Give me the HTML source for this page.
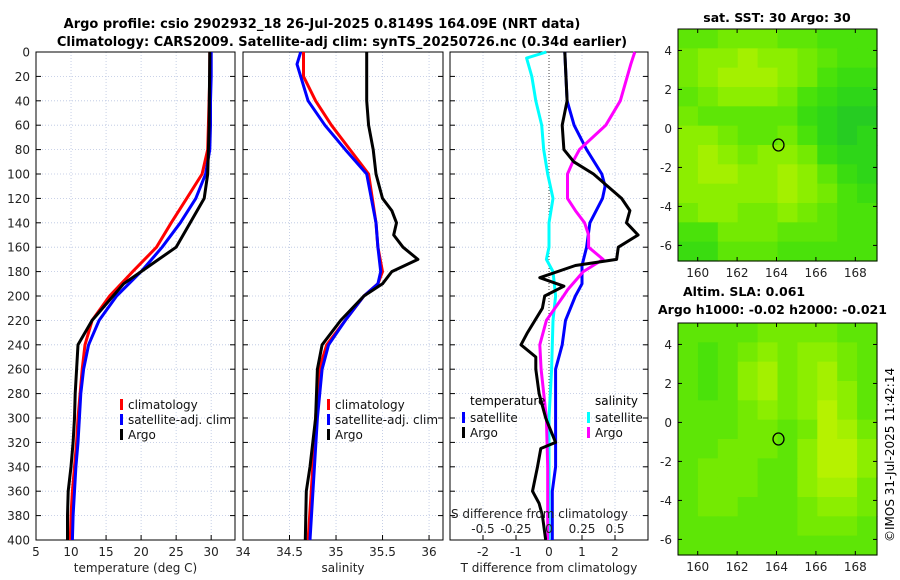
<!DOCTYPE html>
<html><head><meta charset="utf-8"><style>
body{margin:0;background:#fff}
svg{display:block;font-family:"DejaVu Sans","Liberation Sans",sans-serif}
</style></head><body>
<svg id="s" width="900" height="580" xmlns="http://www.w3.org/2000/svg">
<text x="322" y="28" text-anchor="middle" font-weight="bold" font-size="13">Argo profile: csio 2902932_18 26-Jul-2025 0.8149S 164.09E (NRT data)</text>
<text x="342" y="46" text-anchor="middle" font-weight="bold" font-size="13">Climatology: CARS2009. Satellite-adj clim: synTS_20250726.nc (0.34d earlier)</text>
<text x="777" y="22" text-anchor="middle" font-weight="bold" font-size="12.5">sat. SST: 30 Argo: 30</text>
<text x="683" y="296" font-weight="bold" font-size="12.5">Altim. SLA: 0.061</text>
<text x="658" y="314" font-weight="bold" font-size="12.5">Argo h1000: -0.02 h2000: -0.021</text>
<text transform="translate(894,542) rotate(-90)" font-size="12">©IMOS 31-Jul-2025 11:42:14</text>
<g id="g"></g>
</svg>
<script>
const depths=[0,20,40,60,80,100,120,140,160,180,200,220,240,260,280,300,320,340,360,380,400];
const tClim=[29.8,29.8,29.7,29.6,29.5,28.7,26.5,24.3,22.2,18.8,15.5,13,12,11.6,11.3,11,10.8,10.5,10.2,10,9.9];
const tSat=[30,30,29.9,29.9,29.8,29.2,27.8,25.6,23,20,16.5,14,12.5,11.8,11.4,11.2,11,10.7,10.5,10.3,10.2];
const tArgoD=[0,60,100,120,140,160,170,180,190,200,220,240,260,280,300,320,340,360,380,400];
const tArgo=[29.8,29.7,29.5,29,27,25,22.5,20,17.5,16,13,11,10.8,10.6,10.5,10.3,10,9.6,9.5,9.5];
const sArgoD=[0,40,60,80,100,120,130,140,150,160,170,180,190,200,220,240,260,300,340,360,400];
const sArgo=[35.33,35.33,35.35,35.4,35.43,35.5,35.6,35.65,35.62,35.72,35.88,35.6,35.5,35.3,35.05,34.85,34.8,34.78,34.72,34.68,34.67];
const sClimD=[0,20,40,60,80,100,140,160,180,190,200,220,240,260,300,340,400];
const sClim=[34.65,34.65,34.78,34.95,35.15,35.35,35.43,35.45,35.5,35.45,35.3,35.1,34.9,34.82,34.78,34.75,34.7];
const sSatD=[0,10,20,40,60,80,100,140,160,180,190,200,220,240,260,300,400];
const sSat=[34.62,34.58,34.62,34.7,34.88,35.1,35.33,35.43,35.45,35.48,35.45,35.3,35.1,34.92,34.85,34.8,34.72];
const dTSatD=[0,40,60,80,100,110,120,140,160,175,190,200,220,240,260,340,360,400];
const dTSat=[0.48,0.55,0.76,1.14,1.6,1.7,1.62,1.24,1.14,1.0,1.0,0.8,0.5,0.4,0.2,0.2,0.1,0.1];
const dTArgoD=[0,40,60,80,90,100,120,130,140,150,160,170,175,185,192,200,210,230,240,250,260,280,300,310,320,325,340,360,370,380,400];
const dTArgo=[0.48,0.55,0.4,0.45,0.75,1.35,2.2,2.45,2.35,2.7,2.1,2.05,0.8,-0.28,0.45,-0.13,-0.2,-0.65,-0.85,-0.4,-0.4,-0.3,-0.1,0.05,0.2,-0.25,-0.35,-0.5,-0.3,-0.2,-0.1];
const dSSatD=[0,5,20,40,60,80,100,120,140,160,170,180,200,220,260,300,400];
const dSSat=[-0.02,-0.17,-0.13,-0.1,-0.055,-0.04,-0.01,0.03,0,0,-0.02,0.03,0.05,0.03,0.02,0,0];
const dSArgoD=[0,10,40,60,80,90,100,120,130,140,150,160,170,180,195,200,220,240,260,300,340,400];
const dSArgo=[0.65,0.62,0.54,0.43,0.23,0.18,0.14,0.14,0.2,0.27,0.3,0.3,0.41,0.26,0.14,0.11,-0.02,-0.07,-0.06,-0.02,-0.01,-0.01];
const sstGrid=[[5,5,6,6,6,5,5,4,4,4],[6,7,7,8,7,7,6,5,4,4],[6,7,8,8,8,7,6,4,3,3],[5,6,7,7,7,6,4,3,2,2],[6,5,5,5,5,5,3,2,1,1],[7,7,6,5,5,6,4,2,1,2],[7,8,7,6,7,7,6,3,2,2],[7,8,8,7,7,8,7,5,3,2],[7,7,7,7,7,8,7,6,4,3],[6,7,7,6,6,7,6,5,4,4],[4,4,6,6,6,5,5,5,4,4],[3,3,5,5,5,4,4,4,4,4]];
const slaGrid=[[5,5,5,5,6,6,6,6,5,5],[5,4,5,6,7,6,7,7,6,5],[5,4,5,7,8,6,7,8,6,5],[5,4,5,7,8,6,7,8,7,5],[5,5,5,6,7,6,7,9,7,5],[5,5,5,6,6,5,6,9,8,6],[5,5,6,6,6,5,7,9,9,7],[5,6,6,6,5,5,7,9,9,7],[5,6,6,6,5,5,7,8,8,6],[5,6,6,5,5,5,6,7,7,6],[5,5,5,5,5,5,6,6,6,5],[5,5,5,5,5,5,5,5,5,5]];
const floatLon=164.1, floatLat=-0.85;

const NS="http://www.w3.org/2000/svg", G=document.getElementById('g');
function el(t,a,p){const e=document.createElementNS(NS,t);for(const k in a)e.setAttribute(k,a[k]);(p||G).appendChild(e);return e;}
const yD=d=>52+d*1.22;
function panel(x0,x1,xmin,xmax,ticks,lbls,name,xlabel){
  const xs=v=>x0+(v-xmin)/(xmax-xmin)*(x1-x0);
  const g=el('g',{});
  
  
  for(let d=0;d<=400;d+=20){el('line',{x1:x0,x2:x1,y1:yD(d),y2:yD(d),stroke:'#b8c4e0','stroke-dasharray':'1,2','stroke-width':0.8},g);
    el('line',{x1:x0,x2:x0+5,y1:yD(d),y2:yD(d),stroke:'#000'},g);el('line',{x1:x1-5,x2:x1,y1:yD(d),y2:yD(d),stroke:'#000'},g);}
  ticks.forEach((t,i)=>{const x=xs(t);el('line',{x1:x,x2:x,y1:52,y2:540,stroke:'#b8c4e0','stroke-dasharray':'1,2','stroke-width':0.8},g);
    el('line',{x1:x,x2:x,y1:535,y2:540,stroke:'#000'},g);
    const tx=el('text',{x:x,y:556,'text-anchor':'middle','font-size':12,fill:'#222'},g);tx.textContent=lbls[i];});
  el('rect',{x:x0,y:52,width:x1-x0,height:488,fill:'none',stroke:'#000'},g);
  const xl=el('text',{x:(x0+x1)/2,y:572,'text-anchor':'middle','font-size':12,fill:'#222'},g);xl.textContent=xlabel;
  return xs;
}
for(let d=0;d<=400;d+=20){const t=el('text',{x:30,y:yD(d)+4.5,'text-anchor':'end','font-size':12,fill:'#222'});t.textContent=d;
  }
function line(xs,ds,vs,col,name,w){const p=vs.map((v,i)=>xs(v).toFixed(1)+','+yD(ds[i]).toFixed(1)).join(' ');
  const e=el('polyline',{points:p,fill:'none',stroke:col,'stroke-width':w||3,'stroke-linejoin':'round'});
  
  }
function legend(x,y,items){items.forEach((it,i)=>{const yy=y+i*15;el('rect',{x:x,y:yy-10,width:3,height:11,fill:it[1]});
  const t=el('text',{x:x+8,y:yy,'font-size':12,fill:'#111'});t.textContent=it[0];
  });}
const xT=panel(36,235,5,33.4,[5,10,15,20,25,30],['5','10','15','20','25','30'],'temperature-panel','temperature (deg C)');
line(xT,depths,tClim,'#f00','temp-climatology-line');
line(xT,depths,tSat,'#00f','temp-satellite-line');
line(xT,tArgoD,tArgo,'#000','temp-argo-line');
legend(120,409,[['climatology','#f00'],['satellite-adj. clim','#00f'],['Argo','#000']]);
const xS=panel(243,443,34,36.15,[34,34.5,35,35.5,36],['34','34.5','35','35.5','36'],'salinity-panel','salinity');
line(xS,sClimD,sClim,'#f00','sal-climatology-line');
line(xS,sSatD,sSat,'#00f','sal-satellite-line');
line(xS,sArgoD,sArgo,'#000','sal-argo-line');
legend(327,409,[['climatology','#f00'],['satellite-adj. clim','#00f'],['Argo','#000']]);
const xD=panel(450,648,-3,3,[-2,-1,0,1,2],['-2','-1','0','1','2'],'difference-panel','T difference from climatology');
const xSD=v=>xD(v*4);
el('line',{x1:xD(0),x2:xD(0),y1:52,y2:540,stroke:'#444','stroke-dasharray':'1,2'});
line(xD,dTSatD,dTSat,'#00f','tdiff-satellite-line');
line(xSD,dSSatD,dSSat,'#0ff','sdiff-satellite-line');
line(xSD,dSArgoD,dSArgo,'#f0f','sdiff-argo-line');
line(xD,dTArgoD,dTArgo,'#000','tdiff-argo-line');
let t=el('text',{x:470,y:405,'font-size':12});t.textContent='temperature';
t=el('text',{x:595,y:405,'font-size':12});t.textContent='salinity';
legend(462,422,[['satellite','#00f'],['Argo','#000']]);
legend(587,422,[['satellite','#0ff'],['Argo','#f0f']]);
t=el('text',{x:451,y:518,'font-size':12,fill:'#222'});t.textContent='S difference from climatology';
[-0.5,-0.25,0,0.25,0.5].forEach(v=>{const a=el('text',{x:xSD(v),y:533,'text-anchor':'middle','font-size':12,fill:'#222'});a.textContent=String(v);});
const cols=['#22c42e','#26cc22','#2ed618','#3adc10','#4ae20a','#5ee606','#74ea02','#8cee00','#a4f000','#b6f200'];
function map(y0,y1,grid,name){
  const x0=678,x1=877,lonMin=159,lonMax=169.1,latMax=5.1,latMin=-6.8;
  const lx=v=>x0+(v-lonMin)/(lonMax-lonMin)*(x1-x0), ly=v=>y0+(latMax-v)/(latMax-latMin)*(y1-y0);
  const g=el('g',{});
  
  
  const R=grid.length,C=grid[0].length,cw=(x1-x0)/C,ch=(y1-y0)/R;
  grid.forEach((row,r)=>row.forEach((v,c)=>{
    const cell=el('rect',{x:x0+c*cw,y:y0+r*ch,width:cw+0.6,height:ch+0.6,fill:cols[v]},g);
    
    }));
  el('rect',{x:x0,y:y0,width:x1-x0,height:y1-y0,fill:'none',stroke:'#000'},g);
  [160,162,164,166,168].forEach(v=>{el('line',{x1:lx(v),x2:lx(v),y1:y1,y2:y1-4,stroke:'#000'},g);el('line',{x1:lx(v),x2:lx(v),y1:y0,y2:y0+4,stroke:'#000'},g);
    const a=el('text',{x:lx(v),y:y1+16,'text-anchor':'middle','font-size':12,fill:'#222'},g);a.textContent=v;});
  [4,2,0,-2,-4,-6].forEach(v=>{el('line',{x1:x0,x2:x0+4,y1:ly(v),y2:ly(v),stroke:'#000'},g);el('line',{x1:x1,x2:x1-4,y1:ly(v),y2:ly(v),stroke:'#000'},g);
    const a=el('text',{x:x0-6,y:ly(v)+4.5,'text-anchor':'end','font-size':12,fill:'#222'},g);a.textContent=v;});
  const m=el('ellipse',{cx:lx(floatLon),cy:ly(floatLat),rx:5.5,ry:6,fill:'none',stroke:'#000','stroke-width':1.3},g);
  
  
}
map(29,261,sstGrid,'sst-map');
map(323,555,slaGrid,'sla-map');
</script>
</body></html>
